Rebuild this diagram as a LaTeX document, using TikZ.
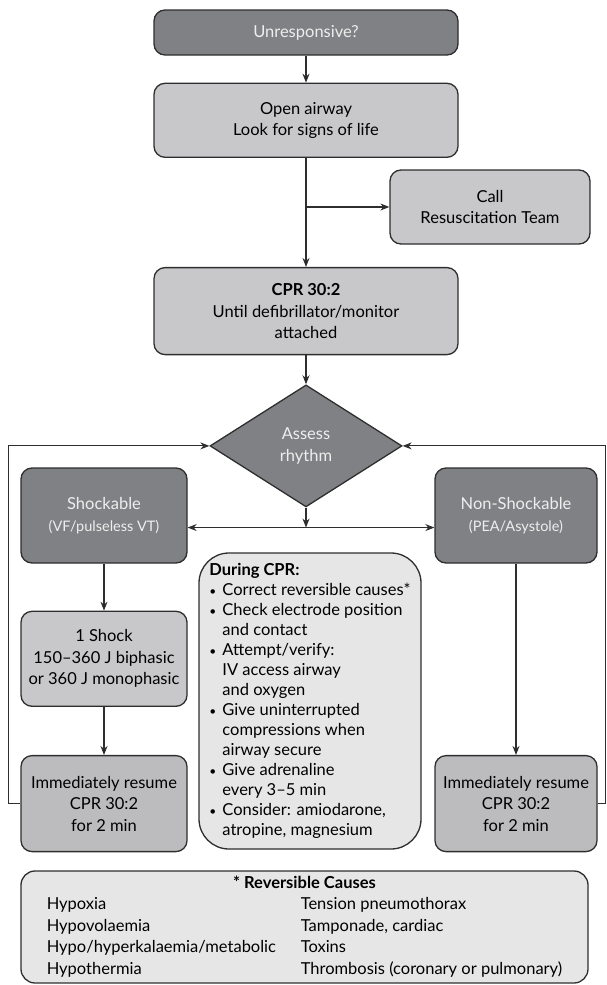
\documentclass[tikz,border=0pt]{standalone}
\usepackage{fontspec}
\setmainfont{Lato}
\usetikzlibrary{positioning,shapes.geometric,arrows.meta}
\definecolor{darkfill}{HTML}{808184}
\definecolor{lightfill}{HTML}{C8C8CA}
\definecolor{resumefill}{HTML}{BCBCBE}
\definecolor{palefill}{HTML}{E6E6E7}
\definecolor{edgecol}{HTML}{2E2E2E}
\definecolor{paletext}{HTML}{EEEEEE}
\tikzset{
  box/.style={draw=edgecol, line width=1.3pt, rounded corners=11pt, align=center,
    font=\fontsize{16.5}{21.5}\selectfont, inner sep=2pt},
  darkbox/.style={box, fill=darkfill, text=paletext},
  lightbox/.style={box, fill=lightfill},
  resumebox/.style={box, fill=resumefill, minimum width=166pt, minimum height=96pt},
  notebox/.style={box, fill=palefill},
  decision/.style={diamond, aspect=1.57, draw=edgecol, line width=1.3pt, fill=darkfill,
    text=paletext, align=center, font=\fontsize{16.5}{21.5}\selectfont,
    minimum width=192pt, minimum height=122pt, inner sep=0pt},
  tip/.tip={Stealth[length=9pt,width=7pt]},
  flow/.style={-tip, line width=1.1pt, draw=edgecol},
  flowboth/.style={tip-tip, line width=1.1pt, draw=edgecol}
}
\newcommand{\bul}{\makebox[13pt][l]{\raisebox{0.5pt}{\fontsize{12}{12}\selectfont\textbullet}}}
\newcommand{\ind}{\hspace*{13pt}}
\newcommand{\smallnote}[1]{{\fontsize{14.5}{18}\selectfont #1}}

\begin{document}
\begin{tikzpicture}[x=1pt,y=1pt]
\useasboundingbox (0,0) rectangle (606,-985);
% main column
\node[darkbox, minimum width=304pt, minimum height=45pt] (unresp) at (306,-32.5) {Unresponsive?};
\node[lightbox, minimum width=304pt, minimum height=74pt] (airway) [below=27pt of unresp] {Open airway\\Look for signs of life};
\node[lightbox, minimum width=200pt, minimum height=74pt] (call) at (490,-207) {Call\\Resuscitation Team};
\node[lightbox, minimum width=304pt, minimum height=87pt] (cpr) [below=109pt of airway] {\textbf{CPR 30:2}\\Until defibrillator/monitor\\attached};
\node[decision] (assess) [below=29pt of cpr] {Assess\\rhythm};
\coordinate[below=20pt of assess.south] (split);
% shockable side
\node[darkbox, minimum width=166pt, minimum height=95pt] (shock) at (104,-515.5) {Shockable\\\smallnote{(VF/pulseless VT)}};
\node[lightbox, minimum width=166pt, minimum height=95pt] (dose) [below=47pt of shock] {1 Shock\\150--360 J biphasic\\or 360 J monophasic};
\node[resumebox] (resumeL) [below=48pt of dose] {Immediately resume\\CPR 30:2\\for 2 min};
% non-shockable side
\node[darkbox, minimum width=162pt, minimum height=95pt] (nonshock) at (516,-515.5) {Non-Shockable\\\smallnote{(PEA/Asystole)}};
\node[resumebox, minimum width=162pt] (resumeR) at (nonshock |- resumeL) {Immediately resume\\CPR 30:2\\for 2 min};
% notes
\node[notebox, rounded corners=30pt, minimum width=222pt, minimum height=296pt, align=left,
  font=\fontsize{16.5}{20}\selectfont] (during) at (310,-701) {\textbf{During CPR:}\\
  \bul Correct reversible causes*\\
  \bul Check electrode position\\
  \ind and contact\\
  \bul Attempt/verify:\\
  \ind IV access airway\\
  \ind and oxygen\\
  \bul Give uninterrupted\\
  \ind compressions when\\
  \ind airway secure\\
  \bul Give adrenaline\\
  \ind every 3--5 min\\
  \bul Consider: amiodarone,\\
  \ind atropine, magnesium};
\node[notebox, rounded corners=14pt, minimum width=567pt, minimum height=112pt] (causes) at (304.5,-927) {%
  \begin{tabular}{@{}p{254pt}@{}l@{}}
  \multicolumn{2}{c}{\textbf{* Reversible Causes}}\\
  Hypoxia & Tension pneumothorax\\
  Hypovolaemia & Tamponade, cardiac\\
  Hypo/hyperkalaemia/metabolic & Toxins\\
  Hypothermia & Thrombosis (coronary or pulmonary)
  \end{tabular}};
\coordinate (leftrail) at (8.5,0);
\coordinate (rightrail) at (605.5,0);
\path[flow] (unresp) edge (airway)
  (airway) edge (cpr)
  (cpr) edge (assess)
  (shock) edge (dose)
  (dose) edge (resumeL)
  (nonshock) edge (resumeR);
\draw[flow] (airway.south |- call.west) -- (call.west);
\draw[flow] (assess.south) -- (split);
\draw[flowboth] (shock.east |- split) -- (nonshock.west |- split);
\draw[flow] (resumeL.west) -- (leftrail |- resumeL.west) -- (leftrail |- assess.west) -- (assess.west);
\draw[flow] (resumeR.east) -- (rightrail |- resumeR.east) -- (rightrail |- assess.east) -- (assess.east);
\end{tikzpicture}
\end{document}
